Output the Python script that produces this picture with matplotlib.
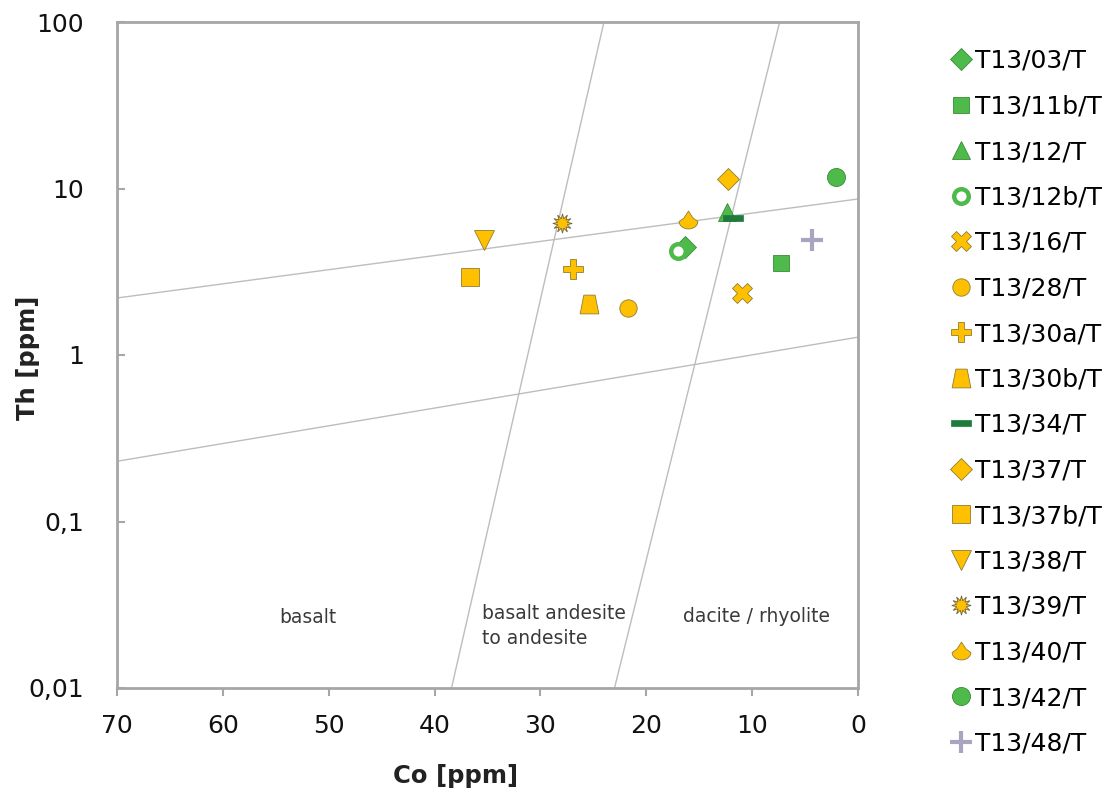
import matplotlib
matplotlib.use("Agg")
import matplotlib.pyplot as plt
import numpy as np
from matplotlib.path import Path
from matplotlib.ticker import FixedLocator, NullLocator

plt.rcParams['font.family'] = ['DejaVu Sans']

# ---- data ----
samples = ["T13/03/T", "T13/11b/T", "T13/12/T", "T13/12b/T", "T13/16/T", "T13/28/T",
           "T13/30a/T", "T13/30b/T", "T13/34/T", "T13/37/T", "T13/37b/T", "T13/38/T",
           "T13/39/T", "T13/40/T", "T13/42/T", "T13/48/T"]
co_ppm = [16.3, 7.3, 12.4, 17.0, 11.0, 21.7, 26.9, 25.4, 11.8, 12.3, 36.7, 35.3, 28.0, 16.1, 2.1, 4.3]
th_ppm = [4.45, 3.57, 7.2, 4.2, 2.36, 1.92, 3.29, 2.02, 6.65, 11.4, 2.94, 4.9, 6.2, 6.47, 11.7, 4.9]

# field boundary lines: (Co start, Co end), (Th start, Th end)
boundaries_co = [(70, 0), (70, 0), (38.4, 24.0), (23.0, 7.4)]
boundaries_th = [(2.2, 8.65), (0.23, 1.28), (0.01, 100), (0.01, 100)]

field_labels = ["basalt", "basalt andesite\nto andesite", "dacite / rhyolite"]
field_label_co = [54.7, 35.5, 16.5]
field_label_th = [0.0245, 0.0258, 0.0249]

y_ticks = [0.01, 0.1, 1, 10, 100]
y_tick_labels = ["0,01", "0,1", "1", "10", "100"]
x_ticks = [70, 60, 50, 40, 30, 20, 10, 0]

# ---- styles ----
YEL = "#FFC000"
YEL_E = "#8F7D35"
GRN = "#4DBA4A"
GRN_E = "#3A8A3A"

trap = Path([(-0.5, -0.5), (0.5, -0.5), (0.3, 0.5), (-0.3, 0.5), (-0.5, -0.5)],
            [Path.MOVETO, Path.LINETO, Path.LINETO, Path.LINETO, Path.CLOSEPOLY])
dash = Path([(-1, -0.28), (1, -0.28), (1, 0.28), (-1, 0.28), (-1, -0.28)],
            [Path.MOVETO, Path.LINETO, Path.LINETO, Path.LINETO, Path.CLOSEPOLY])
ang = np.linspace(np.pi, 2 * np.pi, 24)
tv = [(0.5 * np.cos(a), -0.05 + 0.4 * np.sin(a)) for a in ang]
tv += [(0.25, 0.12), (0.0, 0.5), (-0.25, 0.12)]
tear = Path(tv + [tv[0]], [Path.MOVETO] + [Path.LINETO] * (len(tv) - 1) + [Path.CLOSEPOLY])

styles = [
    dict(marker="D", ms=11.5, mfc=GRN, mec=GRN_E, mew=0.6),
    dict(marker="s", ms=12, mfc=GRN, mec=GRN_E, mew=0.6),
    dict(marker="^", ms=13.5, mfc=GRN, mec=GRN_E, mew=0.6),
    dict(marker="o", ms=10.5, mfc="white", mec=GRN, mew=3.2),
    dict(marker="X", ms=14, mfc=YEL, mec=YEL_E, mew=0.6),
    dict(marker="o", ms=12.5, mfc=YEL, mec=YEL_E, mew=0.6),
    dict(marker="P", ms=14, mfc=YEL, mec=YEL_E, mew=0.6),
    dict(marker=trap, ms=13.5, mfc=YEL, mec=YEL_E, mew=0.6),
    dict(marker=dash, ms=15, mfc="#1E7B3C", mec="#1E7B3C", mew=0.5),
    dict(marker="D", ms=11.5, mfc=YEL, mec=YEL_E, mew=0.6),
    dict(marker="s", ms=13, mfc=YEL, mec=YEL_E, mew=0.6),
    dict(marker="v", ms=15, mfc=YEL, mec=YEL_E, mew=0.6),
    dict(marker=(12, 1, 0), ms=14, mfc=YEL, mec="#6F6340", mew=0.6),
    dict(marker=tear, ms=13.5, mfc=YEL, mec=YEL_E, mew=0.6),
    dict(marker="o", ms=13, mfc=GRN, mec=GRN_E, mew=0.6),
    dict(marker="+", ms=16, mfc="#A9A5C0", mec="#A9A5C0", mew=3),
]

fig = plt.figure(figsize=(11.15, 7.96), dpi=100)
ax = fig.add_axes([117 / 1115, 108 / 796, 741 / 1115, 666 / 796])

for (c0, c1), (t0, t1) in zip(boundaries_co, boundaries_th):
    ax.plot([c0, c1], [t0, t1], color="#BDBDBD", lw=1.0, zorder=1)

handles = []
for name, c, t, st in zip(samples, co_ppm, th_ppm, styles):
    h, = ax.plot([c], [t], linestyle="none", label=name, zorder=3, **st)
    handles.append(h)

for lab, c, t in zip(field_labels, field_label_co, field_label_th):
    for i, line in enumerate(lab.split("\n")):
        ax.annotate(line, xy=(c, t), xytext=(0, -17.5 * i), textcoords="offset points",
                    fontsize=13.5, color="#3A3A3A", ha="left", va="baseline")

ax.set_yscale("log")
ax.set_xlim(70, 0)
ax.set_ylim(0.01, 100)
ax.yaxis.set_major_locator(FixedLocator(y_ticks))
ax.yaxis.set_minor_locator(NullLocator())
ax.set_yticklabels(y_tick_labels)
ax.set_xticks(x_ticks)

for sp in ax.spines.values():
    sp.set_color("#A6A6A6")
    sp.set_linewidth(2)
ax.tick_params(axis="y", direction="in", length=6, width=1.5, color="#A6A6A6",
               labelsize=18, labelcolor="#111111", pad=24)
ax.tick_params(axis="x", direction="out", length=6, width=1.5, color="#A6A6A6",
               labelsize=18, labelcolor="#111111", pad=13)

fig.text(456 / 1115, 1 - 783 / 796, "Co [ppm]", fontsize=17.5, fontweight="bold",
         ha="center", va="baseline", color="#222222")
fig.text(28 / 1115, 1 - 358 / 796, "Th [ppm]", fontsize=17.5, fontweight="bold",
         ha="center", va="center", rotation=90, color="#222222")

leg = fig.legend(handles=handles, loc="upper left", bbox_to_anchor=(941 / 1115, 1 - 39 / 796),
                 frameon=False, fontsize=18, labelspacing=0.86, handlelength=0.8,
                 handletextpad=0.16, markerscale=1.0, borderaxespad=0)

fig.savefig("out.png", dpi=100)
